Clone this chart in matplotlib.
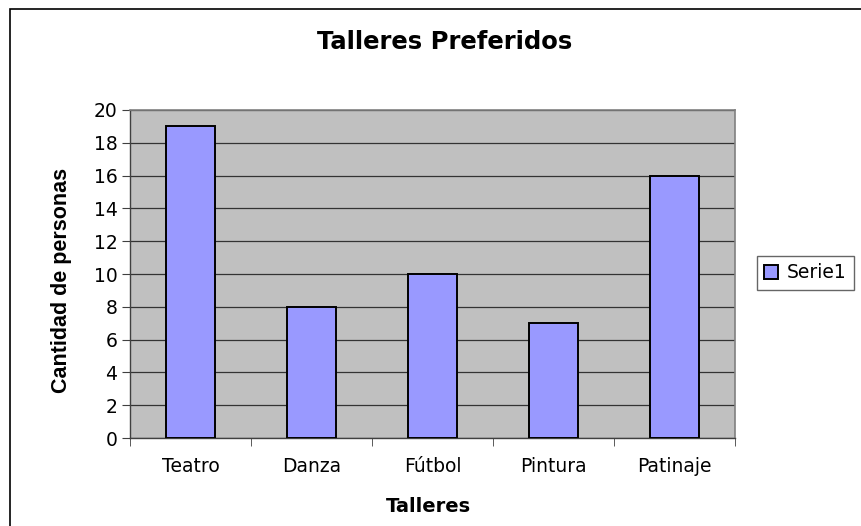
import matplotlib.pyplot as plt
from matplotlib.patches import Rectangle

talleres = ['Teatro', 'Danza', 'Fútbol', 'Pintura', 'Patinaje']
personas = [19, 8, 10, 7, 16]
y_ticks = [0, 2, 4, 6, 8, 10, 12, 14, 16, 18, 20]

plt.rcParams['font.family'] = ['DejaVu Sans']

fig = plt.figure(figsize=(8.62, 5.26), dpi=100)
# marco exterior del grafico
fig.patches.append(Rectangle((10 / 862, -0.05), 1.0, 1 - 9 / 526 + 0.05,
                             transform=fig.transFigure, fill=False,
                             edgecolor='black', linewidth=1.2))

ax = fig.add_axes([130 / 862, 88 / 526, 605 / 862, 328 / 526])
ax.set_facecolor('#C0C0C0')

x = range(len(talleres))
ax.bar(x, personas, width=0.41, color='#9999FF', edgecolor='black',
       linewidth=1.4, label='Serie1', zorder=3)

ax.set_xlim(-0.5, len(talleres) - 0.5)
ax.set_ylim(0, 20)
ax.set_yticks(y_ticks)
ax.set_xticks(x)
ax.set_xticklabels(talleres)
ax.set_xticks([i - 0.5 for i in range(len(talleres) + 1)], minor=True)
ax.tick_params(axis='x', which='major', length=0, pad=14, labelsize=13.5)
ax.tick_params(axis='x', which='minor', length=6, direction='out', color='#404040')
ax.tick_params(axis='y', length=6, direction='out', labelsize=13.5, pad=3, color='#404040')

ax.grid(axis='y', color='#333333', linewidth=0.9, zorder=1)
ax.set_axisbelow(True)

for s in ['top', 'right']:
    ax.spines[s].set_color('#808080')
    ax.spines[s].set_linewidth(1.2)
for s in ['left', 'bottom']:
    ax.spines[s].set_color('#404040')
    ax.spines[s].set_linewidth(1.0)

fig.text(445 / 862, 1 - 42 / 526, 'Talleres Preferidos', ha='center', va='center',
         fontsize=17.5, fontweight='bold')
fig.text(428 / 862, 1 - 506 / 526, 'Talleres', ha='center', va='center',
         fontsize=14, fontweight='bold')
fig.text(62 / 862, 1 - 280 / 526, 'Cantidad de personas', ha='center', va='center',
         rotation=90, fontsize=15.5, fontweight='bold', family='Liberation Sans')

leg = fig.legend(loc='center left', bbox_to_anchor=(757 / 862, 1 - 273 / 526),
                 frameon=True, fancybox=False, fontsize=13.5, handlelength=0.7,
                 handleheight=0.7, handletextpad=0.5, borderpad=0.4,
                 borderaxespad=0)
leg.get_frame().set_edgecolor('#404040')
leg.get_frame().set_linewidth(1.0)

fig.savefig('out.png', dpi=100)
